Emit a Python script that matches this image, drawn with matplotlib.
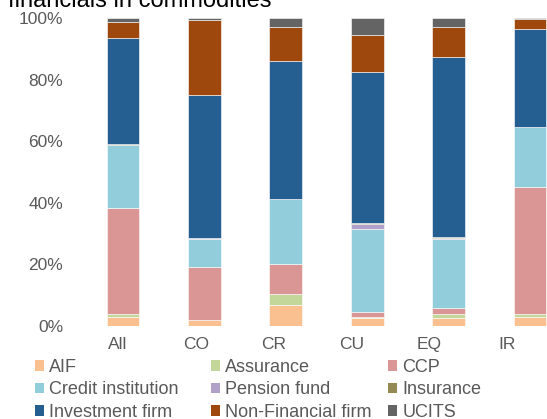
import matplotlib
matplotlib.use("Agg")
import matplotlib.pyplot as plt
from matplotlib.patches import Patch
import numpy as np

plt.rcParams['font.family'] = ['Liberation Sans', 'DejaVu Sans']

categories = ["All", "CO", "CR", "CU", "EQ", "IR"]
series_names = ["AIF", "Assurance", "CCP", "Credit institution", "Pension fund",
                "Insurance", "Investment firm", "Non-Financial firm", "UCITS"]
aif = [3.0, 1.9, 6.7, 2.5, 2.5, 2.9]
assurance = [0.9, 0.0, 3.6, 0.5, 1.4, 1.0]
ccp = [34.4, 17.4, 9.8, 1.6, 2.0, 41.3]
credit = [20.4, 9.1, 21.1, 26.9, 22.5, 19.4]
pension = [0.2, 0.05, 0.0, 1.7, 0.2, 0.0]
insurance = [0.1, 0.05, 0.1, 0.3, 0.3, 0.05]
investment = [34.6, 46.6, 44.6, 48.9, 58.5, 31.7]
nonfin = [5.2, 24.2, 11.2, 12.1, 9.6, 3.3]
ucits = [1.2, 0.8, 3.0, 5.5, 3.0, 0.4]
colors = ["#FAC090", "#C4D79B", "#DA9694", "#92CDDC", "#B1A0C7",
          "#948A54", "#255E91", "#9E480E", "#646464"]
tick_labels = ["0%", "20%", "40%", "60%", "80%", "100%"]

series = [aif, assurance, ccp, credit, pension, insurance, investment, nonfin, ucits]

W, H = 547, 419
fig = plt.figure(figsize=(W / 100, H / 100), dpi=100)
ax = fig.add_axes([70 / W, (H - 326) / H, (W - 70) / W, (326 - 18) / H])

x = np.arange(len(categories))
bottom = np.zeros(len(categories))
handles = []
for name, vals, c in zip(series_names, series, colors):
    v = np.array(vals) / 100.0
    ax.bar(x, v, width=0.405, bottom=bottom, color=c, edgecolor="white", linewidth=0.4)
    bottom += v
    handles.append(Patch(facecolor=c, edgecolor="none", label=name))

ax.set_xlim(-0.651, 5.209)
ax.set_ylim(0, 1)
for s in ax.spines.values():
    s.set_visible(False)
ax.set_yticks(np.linspace(0, 1, 6))
ax.set_yticklabels(tick_labels)
ax.set_xticks(-0.06 + x * 0.955)
ax.set_xticklabels(categories)
ax.tick_params(axis="both", length=0, labelsize=12.5, colors="#595959")
ax.tick_params(axis="y", pad=5)
ax.tick_params(axis="x", pad=8)

fig.text(8 / W, 1 - 7 / H, "financials in commodities", fontsize=17,
         va="baseline", ha="left", color="black")

col_x = [35, 211, 388]
for ci in range(3):
    hs = [handles[r * 3 + ci] for r in range(3)]
    fig.legend(handles=hs, loc="upper left", bbox_to_anchor=(col_x[ci] / W, 1 - 359 / H),
               frameon=False, fontsize=13, handlelength=0.5, handleheight=0.5,
               handletextpad=0.3, labelspacing=0.3, borderpad=0, borderaxespad=0,
               labelcolor="#595959")

fig.savefig("out.png", dpi=100)
